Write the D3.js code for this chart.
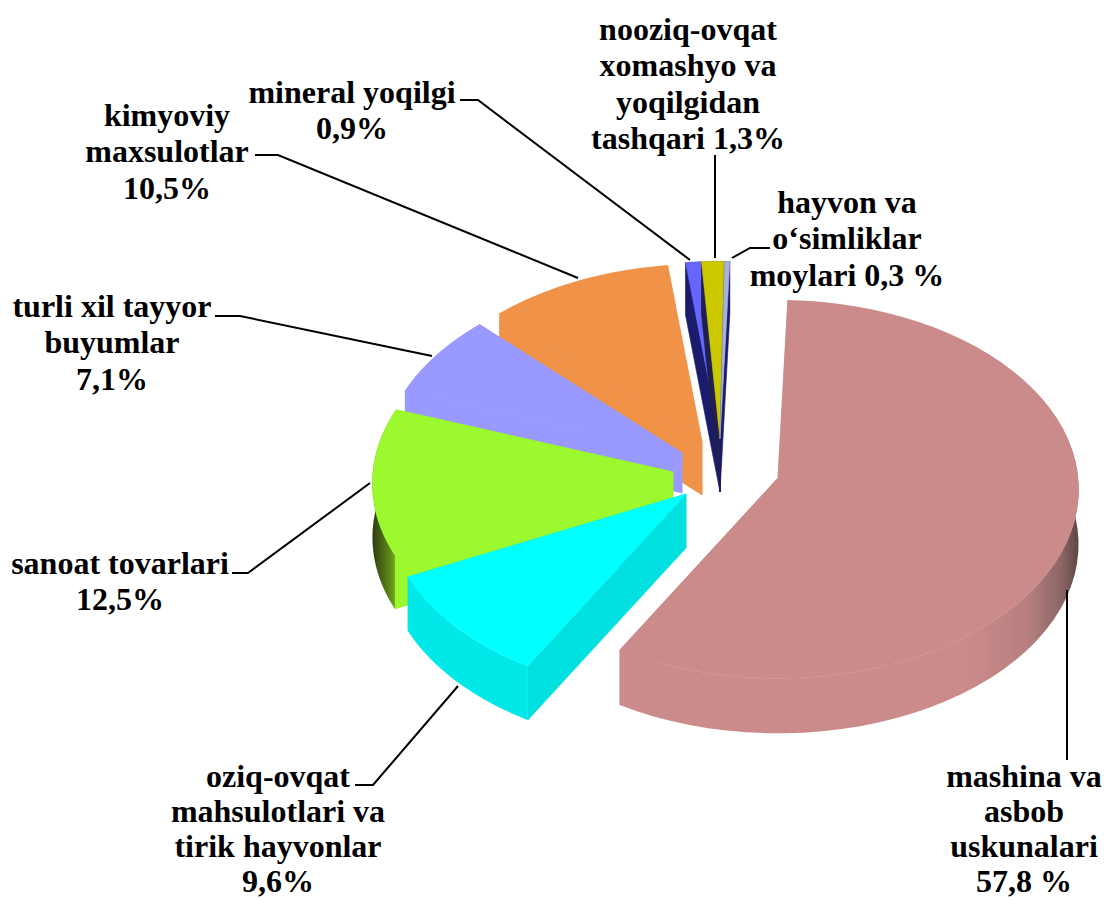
<!DOCTYPE html>
<html><head><meta charset="utf-8">
<script src="https://cdn.jsdelivr.net/npm/d3@7/dist/d3.min.js"></script>
<style>html,body{margin:0;padding:0;background:#fff}svg{display:block}</style>
</head><body><svg id="c" width="1105" height="901"></svg>
<script>
// data
const categories = ["mashina va asbob uskunalari","oziq-ovqat mahsulotlari va tirik hayvonlar","sanoat tovarlari","turli xil tayyor buyumlar","kimyoviy maxsulotlar","mineral yoqilgi","nooziq-ovqat xomashyo va yoqilgidan tashqari","hayvon va o‘simliklar moylari"];
const values = [57.8,9.6,12.5,7.1,10.5,0.9,1.3,0.3];
const labelLines = [
 ["mashina va","asbob","uskunalari","57,8 %"],
 ["oziq-ovqat","mahsulotlari va","tirik hayvonlar","9,6%"],
 ["sanoat tovarlari","12,5%"],
 ["turli xil tayyor","buyumlar","7,1%"],
 ["kimyoviy","maxsulotlar","10,5%"],
 ["mineral yoqilgi","0,9%"],
 ["nooziq-ovqat","xomashyo va","yoqilgidan","tashqari 1,3%"],
 ["hayvon va","o‘simliklar","moylari 0,3 %"]
];
// styles
const topColors  = ["#CC8B8B","#00FFFF","#9BF92D","#9999FF","#F09248","#6666FF","#CCC800","#A9B2D6"];
const sideColors = ["#CC8B8B","#00E0E0","#9BF92D","#9999FF","#F09248","#1B1B6B","#1F1F50","#1B1B6B"];
const wallColors = ["#CC8B8B","#00E8E8","#9BF92D","#9999FF","#F09248","#1B1B6B","#1F1F50","#1B1B6B"];
// layout: exploded slice apexes, label anchors, leader lines
const apex = [[778,478],[686,494],[673,472],[682,453],[702,442],[720,439],[720,439],[720,439]];
const depth = [55,54,54,40,53,53,53,53];
const labelPos = [[1024,787],[278,787],[120,574],[112,317],[167,126],[352,103],[688,40],[847,213]];
const lineSpacing = [35,35,36.3,36.3,36.3,36.3,36.3,36.3];
const leaders = [
 [[1067,590],[1067,760]],
 [[458,686],[373,785],[355,785]],
 [[370,483],[248,573],[232,573]],
 [[432,356],[240,316],[215,316]],
 [[578,278],[278,155],[255,155]],
 [[690,260],[478,100],[460,100]],
 [[715,258],[715,155]],
 [[732,258],[750,248],[770,248]]
];
const rx=300, ry=189, persp=0.06, rot=2*Math.PI/180;

const svg = d3.select("#c");
const pie = d3.pie().sort(null).startAngle(rot).endAngle(rot+2*Math.PI);
const arcs = pie(values);

function pt(a,i,r=1,dz=0){
  const u=Math.sin(a)*r, v=-Math.cos(a)*r, s=1+persp*v;
  return [apex[i][0]+rx*u*s, apex[i][1]+ry*v*s+dz];
}
const line=d3.line();
function arcPts(i,dz){
  const a0=arcs[i].startAngle,a1=arcs[i].endAngle;
  return d3.range(0,61).map(k=>pt(a0+(a1-a0)*k/60,i,1,dz));
}
const defs=svg.append("defs");
const gradients={
  0:{x1:1080,x2:960,stops:[[0,"#5A4242"],[0.15,"#8A6666"],[0.45,"#B98080"],[1,"#CC8B8B"]]},
  2:{x1:372,x2:408,stops:[[0,"#2C3A10"],[0.5,"#5F8A18"],[1,"#9BF92D"]]}
};
function wallFill(i){
  const def=gradients[i];
  if(!def) return wallColors[i];
  const id="g"+i;
  const g=defs.append("linearGradient").attr("id",id).attr("gradientUnits","userSpaceOnUse")
    .attr("x1",def.x1).attr("x2",def.x2).attr("y1",0).attr("y2",0);
  def.stops.forEach(s=>g.append("stop").attr("offset",s[0]).attr("stop-color",s[1]));
  return `url(#${id})`;
}
const order=[4,5,6,7,3,2,1,0];
const gSlices=svg.selectAll("g.slice").data(order).join("g").attr("class","slice")
  .attr("data-name",i=>categories[i]);
gSlices.each(function(i){
  const g=d3.select(this), d=depth[i];
  const ap=apex[i];
  const a0=arcs[i].startAngle,a1=arcs[i].endAngle;
  const outerTop=arcPts(i,0), outerBot=arcPts(i,d).reverse();
  [a0,a1].forEach(a=>{
    const o=pt(a,i);
    g.append("path").attr("d",line([ap,o,[o[0],o[1]+d],[ap[0],ap[1]+d]])+"Z")
     .attr("fill",sideColors[i]).attr("stroke",sideColors[i]).attr("stroke-width",0.6);
  });
  const wf=wallFill(i);
  g.append("path").attr("d",line(outerTop.concat(outerBot))+"Z").attr("fill",wf);
  g.append("path").attr("d",line([ap].concat(outerTop))+"Z").attr("fill",topColors[i])
   .attr("stroke",topColors[i]).attr("stroke-width",0.6);
});
svg.selectAll("path.leader").data(leaders).join("path").attr("class","leader")
  .attr("d",d=>line(d)).attr("fill","none").attr("stroke","#000").attr("stroke-width",2);
const lab=svg.selectAll("text.lab").data(labelLines).join("text").attr("class","lab")
  .attr("font-family","'Liberation Serif','Times New Roman',serif")
  .attr("font-weight","bold").attr("font-size",32).attr("text-anchor","middle").attr("fill","#000");
lab.each(function(lines,i){
  d3.select(this).selectAll("tspan").data(lines).join("tspan")
    .attr("x",labelPos[i][0]).attr("y",(_,k)=>labelPos[i][1]+k*lineSpacing[i]).text(t=>t);
});
</script></body></html>
